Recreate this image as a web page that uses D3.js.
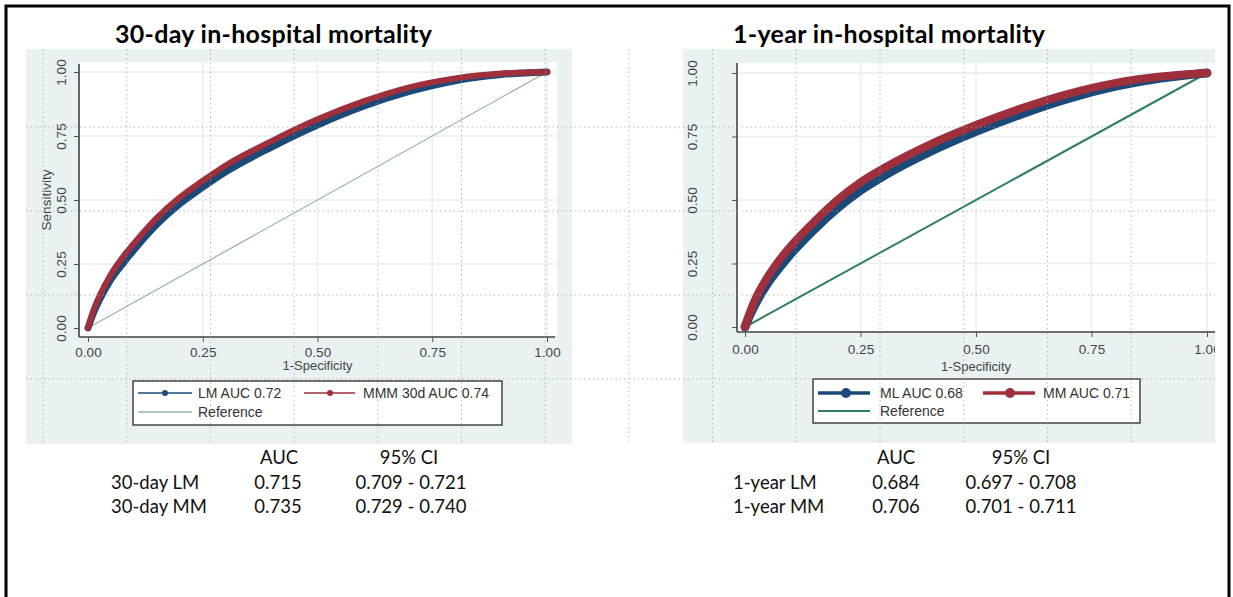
<!DOCTYPE html>
<html>
<head>
<meta charset="utf-8">
<script src="https://cdn.jsdelivr.net/npm/d3@7"></script>
<style>
  body { margin: 0; background: #fff; }
  svg { display: block; }
</style>
</head>
<body>
<div id="chart"></div>
<script>
// ROC points: 1-specificity and sensitivity
var fpr30 = [0, 0.01, 0.025, 0.05, 0.075, 0.1, 0.15, 0.2, 0.25, 0.3, 0.4, 0.5, 0.6, 0.7, 0.8, 0.9, 1];
var tpr30LM = [0, 0.05, 0.11, 0.19, 0.25, 0.305, 0.405, 0.485, 0.55, 0.61, 0.707, 0.793, 0.866, 0.924, 0.966, 0.99, 1];
var tpr30MM = [0, 0.06, 0.125, 0.21, 0.275, 0.33, 0.43, 0.51, 0.575, 0.635, 0.73, 0.815, 0.885, 0.94, 0.975, 0.994, 1];

var fpr1y = [0, 0.01, 0.025, 0.05, 0.075, 0.1, 0.15, 0.2, 0.25, 0.3, 0.4, 0.5, 0.6, 0.7, 0.8, 0.9, 1];
var tpr1yLM = [0, 0.045, 0.1, 0.175, 0.235, 0.29, 0.385, 0.468, 0.538, 0.595, 0.69, 0.77, 0.84, 0.9, 0.947, 0.98, 1];
var tpr1yMM = [0, 0.055, 0.12, 0.2, 0.265, 0.32, 0.415, 0.5, 0.57, 0.625, 0.718, 0.795, 0.862, 0.918, 0.96, 0.986, 1];

var tickValues = [0, 0.25, 0.5, 0.75, 1];
var titles = ["30-day in-hospital mortality", "1-year in-hospital mortality"];
var legend30 = ["LM AUC 0.72", "MMM 30d AUC 0.74", "Reference"];
var legend1y = ["ML AUC 0.68", "MM AUC 0.71", "Reference"];
var tableHead = ["AUC", "95% CI"];
var rows30 = ["30-day LM", "30-day MM"];
var auc30 = ["0.715", "0.735"];
var ci30 = ["0.709 - 0.721", "0.729 - 0.740"];
var rows1y = ["1-year LM", "1-year MM"];
var auc1y = ["0.684", "0.706"];
var ci1y = ["0.697 - 0.708", "0.701 - 0.711"];

var width = 1233, height = 597;
var blue = "#1c4a78", red = "#9e2f3b";

var svg = d3.select("#chart").append("svg")
    .attr("width", width)
    .attr("height", height);

var panels = [
  {
    title: titles[0], titleX: 115, titleW: 317,
    bg: [26, 49, 572, 444], plot: [80, 62, 557, 336],
    xr: [88, 547], yr: [328, 72], axisX: 79, axisY: 337, axisTop: 64, axisRight: 555,
    yLabDx: -18, xLabDy: 15, font: 13.5, yTitle: "Sensitivity", yTitleX: 46, xTitleY: 365,
    fpr: fpr30, lm: tpr30LM, mm: tpr30MM, curveW: 6, refColor: "#93b5a5", refW: 1.2,
    legend: legend30, box: [133, 381, 502, 425], rows: [393, 412],
    item1: [138, 192, 165, 198], item2: [304, 355, 330, 363], legW: 1.5, legR: 3,
    tab: { head: [279, 409], labelX: 111, auc: 278, ci: 411, rows: rows30, aucs: auc30, cis: ci30 }
  },
  {
    title: titles[1], titleX: 733, titleW: 312,
    bg: [683, 49, 1215, 443], plot: [738, 63, 1215, 331],
    xr: [745, 1207], yr: [327, 73], axisX: 737, axisY: 332, axisTop: 63, axisRight: 1215,
    yLabDx: -45, xLabDy: 17, font: 13.5, yTitle: null, xTitleY: 366,
    fpr: fpr1y, lm: tpr1yLM, mm: tpr1yMM, curveW: 8, refColor: "#2f7f62", refW: 2,
    legend: legend1y, box: [813, 379, 1140, 423], rows: [393, 411],
    item1: [818, 870, 846, 880], item2: [983, 1035, 1010, 1043], legW: 3.5, legR: 5,
    tab: { head: [896, 1021], labelX: 733, auc: 896, ci: 1021, rows: rows1y, aucs: auc1y, cis: ci1y }
  }
];

// slide frame
svg.append("rect")
    .attr("x", 6).attr("y", 6)
    .attr("width", 1223).attr("height", 640)
    .attr("fill", "none")
    .attr("stroke", "#000")
    .attr("stroke-width", 3);

panels.forEach(function(p, i) {
    var clipId = "clip" + i;
    svg.append("clipPath").attr("id", clipId)
      .append("rect")
        .attr("x", p.bg[0]).attr("y", p.bg[1])
        .attr("width", p.bg[2] - p.bg[0]).attr("height", p.bg[3] - p.bg[1]);

    var g = svg.append("g").attr("clip-path", "url(#" + clipId + ")");

    var x = d3.scaleLinear().domain([0, 1]).range(p.xr);
    var y = d3.scaleLinear().domain([0, 1]).range(p.yr);

    g.append("rect")
        .attr("x", p.bg[0]).attr("y", p.bg[1])
        .attr("width", p.bg[2] - p.bg[0]).attr("height", p.bg[3] - p.bg[1])
        .attr("fill", "#e9f1f3");

    g.append("rect")
        .attr("x", p.plot[0]).attr("y", p.plot[1])
        .attr("width", p.plot[2] - p.plot[0]).attr("height", p.plot[3] - p.plot[1])
        .attr("fill", "#fff");

    // stata grid
    g.selectAll(".gx").data(tickValues.slice(1)).enter().append("line")
        .attr("x1", function(d) { return x(d); })
        .attr("x2", function(d) { return x(d); })
        .attr("y1", p.plot[1]).attr("y2", p.plot[3])
        .attr("stroke", "#e6eef1").attr("stroke-width", 1.5);
    g.selectAll(".gy").data(tickValues.slice(1)).enter().append("line")
        .attr("y1", function(d) { return y(d); })
        .attr("y2", function(d) { return y(d); })
        .attr("x1", p.plot[0]).attr("x2", p.plot[2])
        .attr("stroke", "#e6eef1").attr("stroke-width", 1.5);

    // axes
    var yAxis = d3.axisLeft(y).tickValues(tickValues).tickSize(5).tickSizeOuter(0)
        .tickFormat(d3.format(".2f"));
    var ya = g.append("g")
        .attr("transform", "translate(" + p.axisX + ",0)")
        .call(yAxis);
    ya.select(".domain").remove();
    ya.selectAll("line").attr("stroke", "#555");
    ya.selectAll("text")
        .attr("transform", "rotate(-90)")
        .attr("x", 0).attr("y", p.yLabDx).attr("dy", "0.35em")
        .attr("text-anchor", "middle")
        .style("font-family", "Liberation Sans, Arial, sans-serif")
        .style("font-size", p.font + "px")
        .attr("fill", "#444");

    var xAxis = d3.axisBottom(x).tickValues(tickValues).tickSize(5).tickSizeOuter(0)
        .tickFormat(d3.format(".2f"));
    var xa = g.append("g")
        .attr("transform", "translate(0," + p.axisY + ")")
        .call(xAxis);
    xa.select(".domain").remove();
    xa.selectAll("line").attr("stroke", "#555");
    xa.selectAll("text")
        .attr("y", p.xLabDy).attr("dy", "0.35em")
        .style("font-family", "Liberation Sans, Arial, sans-serif")
        .style("font-size", p.font + "px")
        .attr("fill", "#444");

    g.append("line")
        .attr("x1", p.axisX).attr("x2", p.axisX)
        .attr("y1", p.axisTop).attr("y2", p.axisY)
        .attr("stroke", "#444").attr("stroke-width", 1.6);
    g.append("line")
        .attr("x1", p.axisX).attr("x2", p.axisRight)
        .attr("y1", p.axisY).attr("y2", p.axisY)
        .attr("stroke", "#444").attr("stroke-width", 1.6);

    g.append("text")
        .attr("x", x(0.5)).attr("y", p.xTitleY).attr("dy", "0.35em")
        .attr("text-anchor", "middle")
        .style("font-family", "Liberation Sans, Arial, sans-serif")
        .style("font-size", "13px")
        .attr("fill", "#444")
        .text("1-Specificity");

    if (p.yTitle) {
        g.append("text")
            .attr("transform", "translate(" + p.yTitleX + "," + y(0.5) + ") rotate(-90)")
            .attr("text-anchor", "middle").attr("dy", "0.35em")
            .style("font-family", "Liberation Sans, Arial, sans-serif")
            .style("font-size", p.font + "px")
            .attr("fill", "#444")
            .text(p.yTitle);
    }

    // curves
    g.append("line")
        .attr("x1", x(0)).attr("y1", y(0))
        .attr("x2", x(1)).attr("y2", y(1))
        .attr("stroke", p.refColor).attr("stroke-width", p.refW);

    var line = d3.line()
        .x(function(d) { return x(d[0]); })
        .y(function(d) { return y(d[1]); })
        .curve(d3.curveMonotoneX);

    g.append("path")
        .datum(d3.zip(p.fpr, p.lm))
        .attr("d", line)
        .attr("fill", "none")
        .attr("stroke", blue)
        .attr("stroke-width", p.curveW + 1)
        .attr("stroke-linecap", "round")
        .attr("stroke-linejoin", "round");

    g.append("path")
        .datum(d3.zip(p.fpr, p.mm))
        .attr("d", line)
        .attr("fill", "none")
        .attr("stroke", red)
        .attr("stroke-width", p.curveW)
        .attr("stroke-linecap", "round")
        .attr("stroke-linejoin", "round");

    // legend
    g.append("rect")
        .attr("x", p.box[0]).attr("y", p.box[1])
        .attr("width", p.box[2] - p.box[0]).attr("height", p.box[3] - p.box[1])
        .attr("fill", "#fff").attr("stroke", "#444").attr("stroke-width", 1.5);

    var items = [
        { it: p.item1, row: p.rows[0], color: blue, marker: true, label: p.legend[0] },
        { it: p.item2, row: p.rows[0], color: red, marker: true, label: p.legend[1] },
        { it: p.item1, row: p.rows[1], color: p.refColor, marker: false, label: p.legend[2] }
    ];
    items.forEach(function(d) {
        g.append("line")
            .attr("x1", d.it[0]).attr("x2", d.it[1])
            .attr("y1", d.row).attr("y2", d.row)
            .attr("stroke", d.color)
            .attr("stroke-width", d.marker ? p.legW : Math.max(p.refW, 1.5));
        if (d.marker) {
            g.append("circle")
                .attr("cx", d.it[2]).attr("cy", d.row).attr("r", p.legR)
                .attr("fill", d.color);
        }
        g.append("text")
            .attr("x", d.it[3]).attr("y", d.row).attr("dy", "0.35em")
            .style("font-family", "Liberation Sans, Arial, sans-serif")
            .style("font-size", "14px")
            .attr("fill", "#333")
            .text(d.label);
    });

    // title
    svg.append("text")
        .attr("x", p.titleX).attr("y", 43)
        .attr("textLength", p.titleW)
        .style("font-family", "Lato, sans-serif")
        .style("font-weight", "bold")
        .style("font-size", "25px")
        .attr("fill", "#000")
        .text(p.title);

    // AUC table
    var t = p.tab;
    var tf = function(sel) {
        return sel.style("font-family", "Lato, sans-serif")
            .style("font-size", "18.5px")
            .attr("fill", "#111")
            .attr("dy", "0.35em");
    };
    tableHead.forEach(function(h, k) {
        tf(svg.append("text"))
            .attr("x", t.head[k]).attr("y", 458)
            .attr("text-anchor", "middle")
            .text(h);
    });
    t.rows.forEach(function(r, k) {
        var yy = 483 + k * 24;
        tf(svg.append("text")).attr("x", t.labelX).attr("y", yy).text(r);
        tf(svg.append("text")).attr("x", t.auc).attr("y", yy)
            .attr("text-anchor", "middle").text(t.aucs[k]);
        tf(svg.append("text")).attr("x", t.ci).attr("y", yy)
            .attr("text-anchor", "middle").text(t.cis[k]);
    });
});

// dotted slide grid laid over both screenshots
var dots = svg.append("g")
    .attr("stroke", "#9a9a9a")
    .attr("stroke-width", 1)
    .attr("stroke-dasharray", "1.3,3.2")
    .attr("opacity", 0.8);
dots.selectAll(".vd").data(d3.range(0, 14)).enter().append("line")
    .attr("x1", function(k) { return 43 + k * 83.7; })
    .attr("x2", function(k) { return 43 + k * 83.7; })
    .attr("y1", 49).attr("y2", 443);
dots.selectAll(".hd").data(d3.range(1, 5)).enter().append("line")
    .attr("y1", function(k) { return 43 + k * 84; })
    .attr("y2", function(k) { return 43 + k * 84; })
    .attr("x1", 26).attr("x2", 1215);
</script>
</body>
</html>
